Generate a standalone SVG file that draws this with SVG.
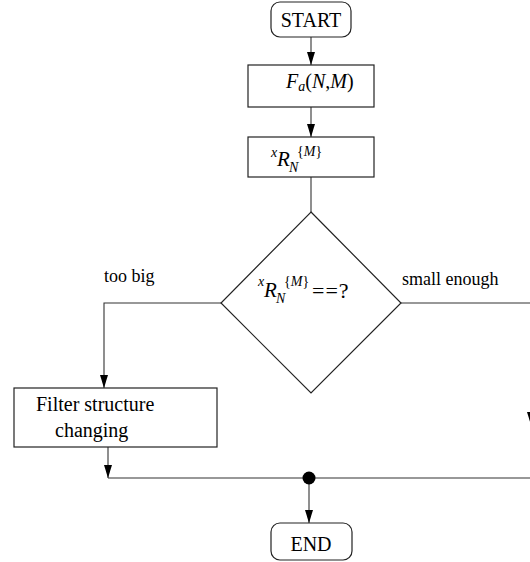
<svg xmlns="http://www.w3.org/2000/svg" width="530" height="562" viewBox="0 0 530 562">
<style>
.box{fill:#fff;stroke:#222;stroke-width:1.2}
.ln{fill:none;stroke:#333;stroke-width:1.1}
.t{font-family:"Liberation Serif","Times New Roman",serif;fill:#000}
.it{font-style:italic}
</style>
<defs>
<marker id="ah" markerUnits="userSpaceOnUse" markerWidth="14" markerHeight="8" refX="13" refY="4" orient="auto">
<path d="M0,0 L13,4 L0,8 z" fill="#000"/>
</marker>
</defs>
<rect width="530" height="562" fill="#fff"/>
<g id="connectors">
<path class="ln" d="M311,37 V65" marker-end="url(#ah)"/>
<path class="ln" d="M311,107 V137" marker-end="url(#ah)"/>
<path class="ln" d="M311,177 V212"/>
<path class="ln" d="M221,303 H104 V388" marker-end="url(#ah)"/>
<path class="ln" d="M401,303 H531 V425" marker-end="url(#ah)"/>
<path class="ln" d="M108,447 V478" marker-end="url(#ah)"/>
<path class="ln" d="M108,478 H531" stroke="#555"/>
<path class="ln" d="M309,478 V523" marker-end="url(#ah)"/>
<circle cx="309" cy="478" r="6.5" fill="#000"/>
<text class="t" x="104" y="282" font-size="18">too big</text>
<text class="t" x="402" y="285" font-size="18">small enough</text>
</g>
<g id="start">
<rect class="box" x="271" y="2" width="80" height="35" rx="9"/>
<text class="t" x="311" y="27" font-size="20" text-anchor="middle">START</text>
</g>
<g id="fa">
<rect class="box" x="248" y="65" width="126" height="42"/>
<text class="t" x="286" y="88" font-size="20"><tspan class="it">F</tspan><tspan class="it" font-size="14" dy="3">a</tspan><tspan dy="-3">(</tspan><tspan class="it">N</tspan><tspan>,</tspan><tspan class="it">M</tspan><tspan>)</tspan></text>
</g>
<g id="r">
<rect class="box" x="248" y="137" width="126" height="40"/>
<text class="t" font-size="21"><tspan class="it" font-size="14" x="271" y="157">x</tspan><tspan class="it" x="277" y="166">R</tspan><tspan class="it" font-size="14" x="289" y="172">N</tspan><tspan font-size="14" x="297" y="156">{</tspan><tspan class="it" font-size="14">M</tspan><tspan font-size="14">}</tspan></text>
</g>
<g id="decision">
<polygon class="box" points="311,212 401,303 311,393 221,303"/>
<text class="t" font-size="21"><tspan class="it" font-size="14" x="258" y="286">x</tspan><tspan class="it" x="264" y="297">R</tspan><tspan class="it" font-size="14" x="276" y="303">N</tspan><tspan font-size="14" x="284" y="286">{</tspan><tspan class="it" font-size="14">M</tspan><tspan font-size="14">}</tspan><tspan x="312" y="298" font-size="22" letter-spacing="1">==?</tspan></text>
</g>
<g id="filter">
<rect class="box" x="14" y="388" width="203" height="59"/>
<text class="t" x="36" y="411" font-size="20">Filter structure</text>
<text class="t" x="55" y="437" font-size="20">changing</text>
</g>
<g id="end">
<rect class="box" x="271" y="523" width="81" height="37" rx="9"/>
<text class="t" x="311" y="551" font-size="20" text-anchor="middle">END</text>
</g>
</svg>
